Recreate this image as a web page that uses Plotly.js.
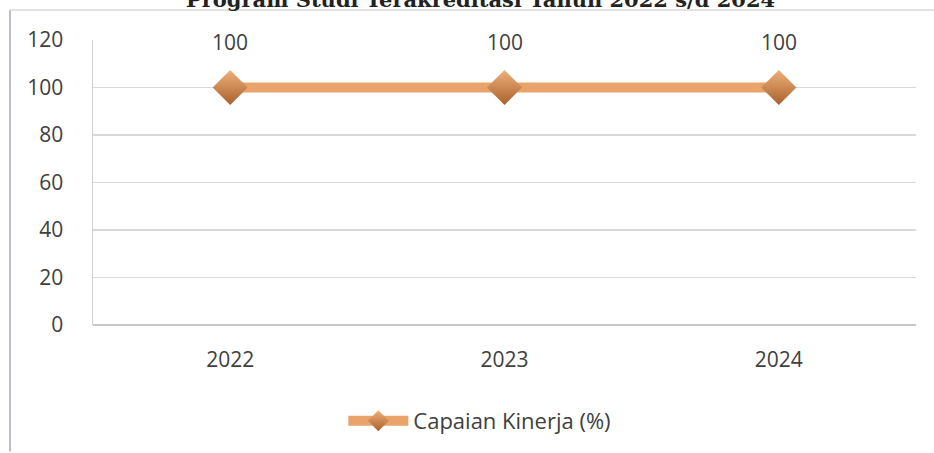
<!DOCTYPE html>
<html>
<head>
<meta charset="utf-8">
<script src="https://cdn.plot.ly/plotly-3.0.1.min.js"></script>
<style>
html,body{margin:0;padding:0;background:#fff;}
#chart{width:934px;height:453px;}
</style>
</head>
<body>
<div id="chart"></div>
<script>
const years = ['2022', '2023', '2024'];
const capaian = [100, 100, 100];
const seriesName = 'Capaian Kinerja (%)';
const yTicks = [0, 20, 40, 60, 80, 100, 120];
const titleText = 'Program Studi Terakreditasi Tahun 2022 s/d 2024';

const FONT = '"Open Sans", "Liberation Sans", sans-serif';

const trace = {
  x: years,
  y: capaian,
  type: 'scatter',
  mode: 'lines+markers',
  name: seriesName,
  line: {color: '#E9A36B', width: 10},
  marker: {
    symbol: 'diamond',
    size: 27,
    color: '#EFB07A',
    gradient: {type: 'vertical', color: '#A9612C'},
    line: {width: 0}
  },
  cliponaxis: false,
  hoverinfo: 'skip'
};

const labels = years.map((yr, i) => ({
  x: i, y: capaian[i], xref: 'x', yref: 'y',
  text: String(capaian[i]), showarrow: false,
  yshift: 46, font: {family: FONT, size: 21, color: '#404040'}
}));

labels.push({
  xref: 'paper', yref: 'paper', x: 0.471, y: 1.09, xanchor: 'center', yanchor: 'bottom',
  text: '<b>' + titleText + '</b>', showarrow: false,
  font: {family: '"DejaVu Serif", "Liberation Serif", serif', size: 21, color: '#222'}
});

const layout = {
  width: 934, height: 453,
  margin: {l: 93, r: 18, t: 40, b: 127},
  paper_bgcolor: '#ffffff', plot_bgcolor: '#ffffff',
  showlegend: true,
  legend: {
    orientation: 'h', x: 0.47, xanchor: 'center', y: -0.332, yanchor: 'middle',
    font: {family: FONT, size: 22, color: '#404040'},
    itemwidth: 60
  },
  xaxis: {
    type: 'category', range: [-0.5, 2.5],
    showgrid: false, zeroline: false,
    showline: false, ticks: '',
    tickfont: {family: FONT, size: 21, color: '#404040'},
    ticklabelstandoff: 20
  },
  yaxis: {
    range: [0, 120], tickvals: yTicks, ticktext: yTicks.map(String),
    showgrid: true, gridcolor: '#D9D9D9', gridwidth: 1.5,
    zeroline: true, zerolinecolor: '#C8C8C8', zerolinewidth: 2,
    showline: true, linecolor: '#D0D0D0', linewidth: 1.5,
    ticks: '', tickfont: {family: FONT, size: 21, color: '#404040'},
    ticklabelstandoff: 24
  },
  annotations: labels,
  shapes: [
    {type: 'line', xref: 'paper', yref: 'paper', x0: (10-93)/823, x1: (10-93)/823, y0: (326-453)/286, y1: (326-10)/286, line: {color: '#A8A8B8', width: 1.5}},
    {type: 'line', xref: 'paper', yref: 'paper', x0: (10-93)/823, x1: (934-93)/823, y0: (326-10)/286, y1: (326-10)/286, line: {color: '#D8D8D8', width: 1.5}}
  ],
  font: {family: FONT}
};

Plotly.newPlot('chart', [trace], layout, {displayModeBar: false, staticPlot: true});
</script>
</body>
</html>
